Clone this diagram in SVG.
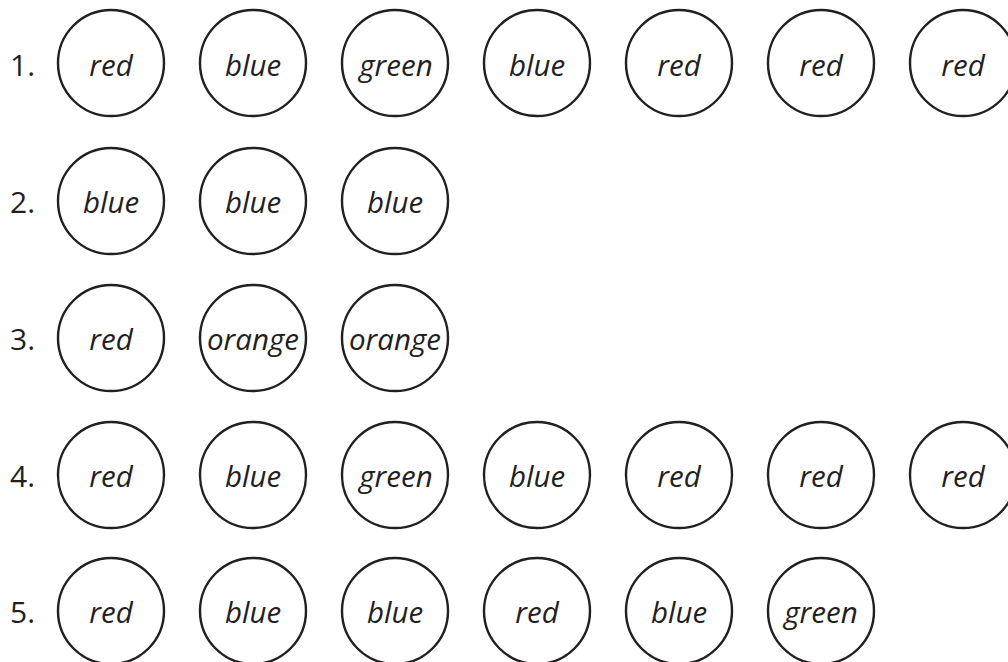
<svg xmlns="http://www.w3.org/2000/svg" width="1008" height="662" viewBox="0 0 1008 662">
<style>
.c{fill:none;stroke:#231f20;stroke-width:2.4}
.w{font-family:"Open Sans","Noto Sans",sans-serif;font-style:italic;font-size:29.5px;fill:#231f20;text-anchor:middle}
.n{font-family:"Open Sans","Noto Sans",sans-serif;font-size:30px;fill:#231f20}
</style>
<rect width="1008" height="662" fill="#fff"/>
<g id="row1">
<text class="n" x="10" y="76">1.</text>
<g id="r1c1"><circle class="c" cx="111" cy="63" r="53"/><text class="w" x="111" y="76">red</text></g>
<g id="r1c2"><circle class="c" cx="253" cy="63" r="53"/><text class="w" x="253" y="76">blue</text></g>
<g id="r1c3"><circle class="c" cx="395" cy="63" r="53"/><text class="w" x="396" y="76">green</text></g>
<g id="r1c4"><circle class="c" cx="537" cy="63" r="53"/><text class="w" x="537" y="76">blue</text></g>
<g id="r1c5"><circle class="c" cx="679" cy="63" r="53"/><text class="w" x="679" y="76">red</text></g>
<g id="r1c6"><circle class="c" cx="821" cy="63" r="53"/><text class="w" x="821" y="76">red</text></g>
<g id="r1c7"><circle class="c" cx="963" cy="63" r="53"/><text class="w" x="963" y="76">red</text></g>
</g>
<g id="row2">
<text class="n" x="10" y="213">2.</text>
<g id="r2c1"><circle class="c" cx="111" cy="201" r="53"/><text class="w" x="111" y="213">blue</text></g>
<g id="r2c2"><circle class="c" cx="253" cy="201" r="53"/><text class="w" x="253" y="213">blue</text></g>
<g id="r2c3"><circle class="c" cx="395" cy="201" r="53"/><text class="w" x="395" y="213">blue</text></g>
</g>
<g id="row3">
<text class="n" x="10" y="350">3.</text>
<g id="r3c1"><circle class="c" cx="111" cy="338" r="53"/><text class="w" x="111" y="350">red</text></g>
<g id="r3c2"><circle class="c" cx="253" cy="338" r="53"/><text class="w" x="253" y="350">orange</text></g>
<g id="r3c3"><circle class="c" cx="395" cy="338" r="53"/><text class="w" x="395" y="350">orange</text></g>
</g>
<g id="row4">
<text class="n" x="10" y="487">4.</text>
<g id="r4c1"><circle class="c" cx="111" cy="475" r="53"/><text class="w" x="111" y="487">red</text></g>
<g id="r4c2"><circle class="c" cx="253" cy="475" r="53"/><text class="w" x="253" y="487">blue</text></g>
<g id="r4c3"><circle class="c" cx="395" cy="475" r="53"/><text class="w" x="396" y="487">green</text></g>
<g id="r4c4"><circle class="c" cx="537" cy="475" r="53"/><text class="w" x="537" y="487">blue</text></g>
<g id="r4c5"><circle class="c" cx="679" cy="475" r="53"/><text class="w" x="679" y="487">red</text></g>
<g id="r4c6"><circle class="c" cx="821" cy="475" r="53"/><text class="w" x="821" y="487">red</text></g>
<g id="r4c7"><circle class="c" cx="963" cy="475" r="53"/><text class="w" x="963" y="487">red</text></g>
</g>
<g id="row5">
<text class="n" x="10" y="623">5.</text>
<g id="r5c1"><circle class="c" cx="111" cy="611" r="53"/><text class="w" x="111" y="623">red</text></g>
<g id="r5c2"><circle class="c" cx="253" cy="611" r="53"/><text class="w" x="253" y="623">blue</text></g>
<g id="r5c3"><circle class="c" cx="395" cy="611" r="53"/><text class="w" x="395" y="623">blue</text></g>
<g id="r5c4"><circle class="c" cx="537" cy="611" r="53"/><text class="w" x="537" y="623">red</text></g>
<g id="r5c5"><circle class="c" cx="679" cy="611" r="53"/><text class="w" x="679" y="623">blue</text></g>
<g id="r5c6"><circle class="c" cx="821" cy="611" r="53"/><text class="w" x="821" y="623">green</text></g>
</g>
<g id="connectors"/>
</svg>
